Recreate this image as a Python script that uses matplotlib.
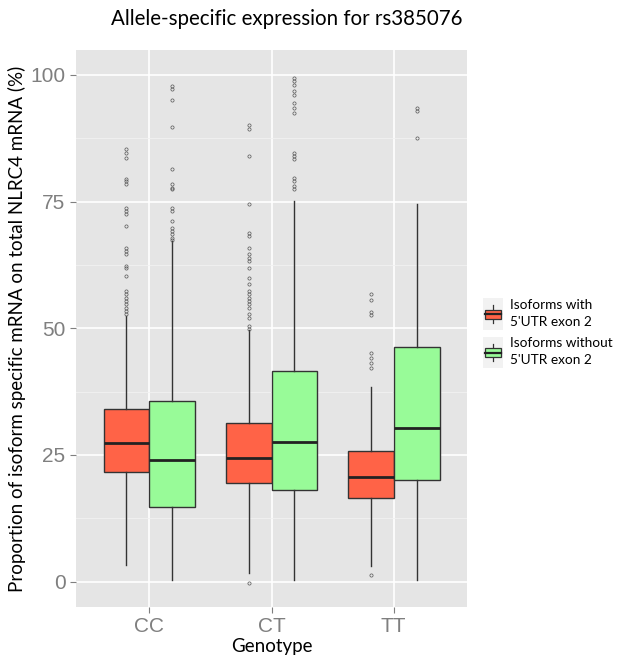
import numpy as np
import matplotlib
matplotlib.use("Agg")
import matplotlib.pyplot as plt
from matplotlib.patches import Rectangle
from matplotlib.lines import Line2D
from matplotlib.legend_handler import HandlerBase

# values (percent)
genotypes = ["CC", "CT", "TT"]
groups = ["Isoforms with\n5'UTR exon 2", "Isoforms without\n5'UTR exon 2"]
fills = ["#FF6347", "#98FB98"]

# [q1, median, q3, whisker low, whisker high] per genotype
with_exon2 = [[21.7, 27.4, 34.0, 3.2, 52.4],
              [19.4, 24.5, 31.4, 1.8, 49.6],
              [16.5, 20.6, 25.8, 3.0, 38.5]]
without_exon2 = [[14.7, 24.1, 35.6, 0.3, 67.2],
                 [18.0, 27.6, 41.5, 0.3, 75.1],
                 [20.1, 30.4, 46.4, 0.4, 74.6]]

out_with = [
    [85.4, 84.6, 83.6, 79.5, 79.0, 78.4, 73.8, 73.2, 72.5, 70.2, 65.9, 65.3, 64.7,
     62.3, 61.9, 60.4, 57.4, 56.8, 56.0, 55.4, 54.8, 54.0, 53.5, 52.9],
    [90.1, 89.3, 84.0, 74.6, 68.8, 68.2, 65.9, 64.7, 63.9, 63.3, 61.9, 60.0, 58.8,
     57.4, 56.8, 56.0, 55.4, 54.8, 54.0, 52.9, 52.1, 50.5, 49.9, -0.2],
    [56.8, 55.6, 53.3, 52.6, 45.2, 44.2, 43.2, 42.2, 1.4],
]
out_without = [
    [97.8, 97.3, 95.1, 89.7, 81.5, 78.5, 77.7, 77.4, 73.8, 73.2, 71.2, 69.8, 69.2,
     68.6, 67.9, 67.4],
    [99.4, 98.7, 97.9, 96.8, 96.0, 94.4, 93.4, 92.4, 84.6, 84.0, 83.4, 79.7, 79.1,
     78.1, 77.5],
    [93.5, 92.8, 87.6],
]

def make_stats(rows, outs):
    stats = []
    for r, o in zip(rows, outs):
        stats.append(dict(q1=r[0], med=r[1], q3=r[2], whislo=r[3], whishi=r[4],
                          fliers=np.array(o)))
    return stats

plt.rcParams['font.family'] = ['Lato', 'DejaVu Sans']

fig = plt.figure(figsize=(6.21, 6.64), dpi=100)
ax = fig.add_axes([0.1224, 0.0858, 0.6296, 0.8389])
ax.set_facecolor("#E5E5E5")

pos = np.arange(1, len(genotypes) + 1)
width = 0.375
edge = "#333333"
for k, (rows, outs) in enumerate([(with_exon2, out_with), (without_exon2, out_without)]):
    off = (k - 0.5) * width
    ax.bxp(make_stats(rows, outs), positions=pos + off, widths=width,
           patch_artist=True, showcaps=False, manage_ticks=False,
           boxprops=dict(facecolor=fills[k], edgecolor=edge, linewidth=1.0),
           whiskerprops=dict(color=edge, linewidth=1.0),
           medianprops=dict(color="#222222", linewidth=2.0),
           flierprops=dict(marker='o', markerfacecolor='none', markeredgecolor='#555555',
                           markersize=2.3, markeredgewidth=0.5),
           zorder=3)

ax.set_xlim(0.4, 3.6)
ax.set_ylim(-5, 104.9)
ax.set_xticks(pos)
ax.set_xticklabels(genotypes)
ax.set_yticks([0, 25, 50, 75, 100])
ax.set_yticks([12.5, 37.5, 62.5, 87.5], minor=True)
ax.grid(True, which='major', color='white', linewidth=1.2, zorder=0)
ax.grid(True, which='minor', axis='y', color='#F2F2F2', linewidth=0.6, zorder=0)
ax.set_axisbelow(True)
for s in ax.spines.values():
    s.set_visible(False)
ax.tick_params(axis='both', which='major', colors='#7F7F7F', length=4, width=0.8,
               labelsize=15)
ax.tick_params(axis='both', which='minor', length=0)
for lab in ax.get_xticklabels() + ax.get_yticklabels():
    lab.set_family(['Liberation Sans', 'DejaVu Sans'])
    lab.set_color('#7F7F7F')

ax.set_xlabel("Genotype", fontsize=13.5, labelpad=1)
ax.set_ylabel("Proportion of isoform specific mRNA on total NLRC4 mRNA (%)", fontsize=13.5,
              labelpad=3)
fig.text(0.462, 0.972, "Allele-specific expression for rs385076", fontsize=14.8,
         ha='center', va='center')


class BoxKey(HandlerBase):
    def create_artists(self, legend, orig_handle, xdescent, ydescent, width, height,
                       fontsize, trans):
        x0, y0 = -xdescent, -ydescent
        cx = x0 + width / 2
        bg = Rectangle((x0, y0), width, height, facecolor='#F2F2F2', edgecolor='none')
        wl = Line2D([cx, cx], [y0 + height * 0.22, y0 + height * 0.78], color=edge, lw=0.9)
        bx = Rectangle((x0 + width * 0.1, y0 + height * 0.36), width * 0.8, height * 0.28,
                       facecolor=orig_handle.get_facecolor(), edgecolor=edge, lw=0.9)
        md = Line2D([x0 + width * 0.1, x0 + width * 0.9], [y0 + height / 2] * 2,
                    color='#222222', lw=1.6)
        arts = [bg, wl, bx, md]
        for a in arts:
            a.set_transform(trans)
        return arts


handles = [Rectangle((0, 0), 1, 1, facecolor=c) for c in fills]
leg = fig.legend(handles, groups, handler_map={Rectangle: BoxKey()},
                 loc='center left', bbox_to_anchor=(0.778, 0.498), frameon=False,
                 fontsize=9.8, handlelength=1.45, handleheight=3.2, handletextpad=0.55,
                 labelspacing=0.5, borderpad=0, borderaxespad=0)
for t in leg.get_texts():
    t.set_linespacing(1.5)

fig.savefig("out.png", dpi=100)
